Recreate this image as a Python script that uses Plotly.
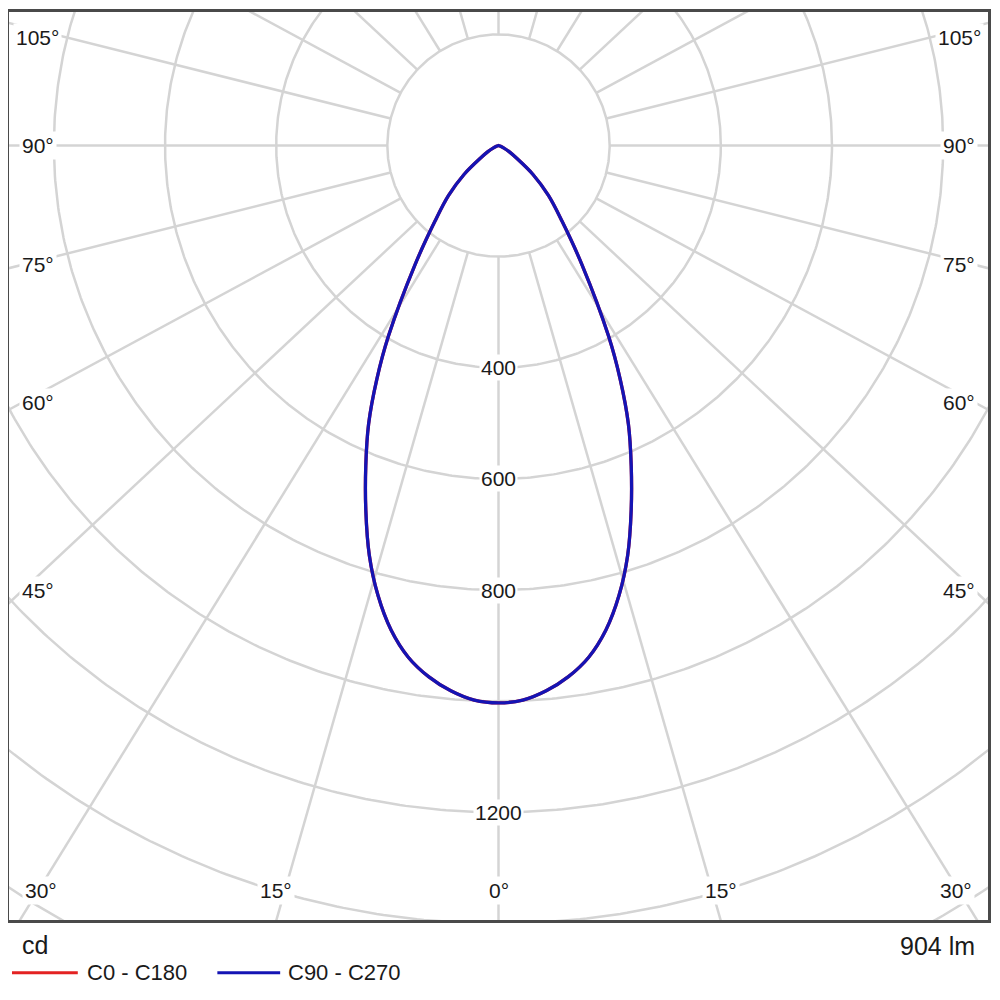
import numpy as np
import plotly.graph_objects as go

# luminous intensity distribution, gamma in degrees from nadir, values in cd
gamma = [0, 2.5, 5, 7.5, 10, 12.5, 15, 17.5, 20, 22.5, 25, 27.5, 30,
         35, 40, 45, 50, 55, 60, 65, 70, 75, 80, 85, 90]
c0_c180 = [1003, 999, 985, 964, 935, 893, 838, 773, 698, 624, 553, 474, 396,
           262, 178, 127, 81, 40, 22, 10, 4, 1, 0, 0, 0]
c90_c270 = [1003, 999, 985, 964, 935, 893, 838, 773, 698, 624, 553, 474, 396,
            262, 178, 127, 81, 40, 22, 10, 4, 1, 0, 0, 0]

plane_names = ['C0 - C180', 'C90 - C270']
plane_colors = ['#e32222', '#1414b4']

rings = [200, 400, 600, 800, 1000, 1200, 1400, 1600, 1800, 2000]
ring_labels = [400, 600, 800, 1200]
spoke_angles = [0, 15, 30, 45, 60, 75, 90, 105, 120, 135, 150, 165, 180]
angle_labels = [0, 15, 30, 45, 60, 75, 90, 105]
unit_text = 'cd'
flux_text = '904 lm'

GRID = '#d4d4d4'
TXT = '#1a1a1a'
FONT = 'Liberation Sans, Arial, sans-serif'
STRETCH = 1.07  # the angle grid of the original is slightly wider than round

# the page puts the figure 8 px in from the corner; keep it inside the window
OFF = 8
W, H = 984, 984
L, R, T, B = 1, 1, 1, 72
PW, PH = W - L - R, H - T - B
PX_PER_CD = 111.5 / 200
CX, CY = 500, 143  # pole position on screen


def px_x(xs):
    return (xs - OFF - L) / PW


def px_y(ys):
    return (H - B - (ys - OFF)) / PH


def plane_xy(values):
    g = np.radians(np.array(gamma, float))
    r = np.array(values, float)
    g_full = np.concatenate([-g[::-1], g[1:]])
    r_full = np.concatenate([r[::-1], r[1:]])
    return r_full * np.sin(g_full), -r_full * np.cos(g_full)


def spoke_dir(a, side):
    a = np.radians(a)
    d = np.array([side * STRETCH * np.sin(a), -np.cos(a)])
    return d / np.hypot(*d)


fig = go.Figure()

# rings
t = np.linspace(0, 2 * np.pi, 721)
rx, ry = [], []
for r in rings:
    rx += list(r * np.cos(t)) + [None]
    ry += list(r * np.sin(t)) + [None]
fig.add_trace(go.Scatter(x=rx, y=ry, mode='lines', line=dict(color=GRID, width=2.5),
                         hoverinfo='skip', showlegend=False))

# spokes
sx, sy = [], []
for a in spoke_angles:
    for side in ([1] if a in (0, 180) else [-1, 1]):
        d = spoke_dir(a, side)
        p0 = d * rings[0]
        p1 = d * 3000
        sx += [p0[0], p1[0], None]
        sy += [p0[1], p1[1], None]
fig.add_trace(go.Scatter(x=sx, y=sy, mode='lines', line=dict(color=GRID, width=2.5),
                         hoverinfo='skip', showlegend=False))

# curves
for name, vals, col in zip(plane_names, [c0_c180, c90_c270], plane_colors):
    x, y = plane_xy(vals)
    fig.add_trace(go.Scatter(x=x, y=y, mode='lines', name=name,
                             line=dict(color=col, width=3.3, shape='spline', smoothing=1.0),
                             showlegend=False))

# axis ranges so the pole lands at (CX, CY) on screen
x0s, x1s = OFF + L, OFF + L + PW
y0s, y1s = OFF + T, OFF + T + PH
x_left = -(CX - x0s) / PX_PER_CD
x_right = (x1s - CX) / PX_PER_CD
y_top = (CY - y0s) / PX_PER_CD
y_bottom = -(y1s - CY) / PX_PER_CD

annotations = []

# ring values along the 0 deg spoke
for r in ring_labels:
    annotations.append(dict(x=0, y=-r, xref='x', yref='y', text=str(r), showarrow=False,
                            font=dict(family=FONT, size=21, color=TXT),
                            bgcolor='white', borderpad=1))

# angle labels: side ones at the height where the spoke nears the frame,
# bottom ones where the spoke meets the bottom edge
side_hit = 478 / PX_PER_CD
side_text = 462 / PX_PER_CD
bottom_hit = 777 / PX_PER_CD
bottom_text = -(890 - CY) / PX_PER_CD
top_text = (CY - 35) / PX_PER_CD
max_bottom_x = 459 / PX_PER_CD
for a in angle_labels:
    for side in ([1] if a == 0 else [-1, 1]):
        d = spoke_dir(a, side)
        px = py = None
        if abs(d[0]) > 1e-9:
            yy = d[1] * side_hit / abs(d[0])
            if yy >= bottom_text:
                px, py = side * side_text, min(yy, top_text)
        if px is None:
            xx = d[0] * bottom_hit / -d[1]
            px, py = float(np.clip(xx, -max_bottom_x, max_bottom_x)), bottom_text
        annotations.append(dict(x=px, y=py, xref='x', yref='y', text=f'{a}°', showarrow=False,
                                font=dict(family=FONT, size=21, color=TXT),
                                bgcolor='white', borderpad=2))

# footer texts
annotations.append(dict(x=px_x(20), y=px_y(945), xref='paper', yref='paper', text=unit_text,
                        showarrow=False, xanchor='left', yanchor='middle',
                        font=dict(family=FONT, size=25, color=TXT)))
annotations.append(dict(x=px_x(980), y=px_y(946), xref='paper', yref='paper', text=flux_text,
                        showarrow=False, xanchor='right', yanchor='middle',
                        font=dict(family=FONT, size=25, color=TXT)))

# hand made legend
shapes = []
leg = [(12, 78, 85), (218, 281, 287)]
for (x0, x1, xt), name, col in zip(leg, plane_names, plane_colors):
    shapes.append(dict(type='line', xref='paper', yref='paper', x0=px_x(x0), x1=px_x(x1),
                       y0=px_y(973), y1=px_y(973), line=dict(color=col, width=3)))
    annotations.append(dict(x=px_x(xt), y=px_y(973), xref='paper', yref='paper', text=name,
                            showarrow=False, xanchor='left', yanchor='middle',
                            font=dict(family=FONT, size=22, color=TXT)))

axis = dict(showgrid=False, zeroline=False, showticklabels=False, ticks='',
            showline=True, mirror=True, linecolor='#4a4a4a', linewidth=2.5)

fig.update_layout(
    width=W, height=H,
    margin=dict(l=L, r=R, t=T, b=B),
    paper_bgcolor='white', plot_bgcolor='white',
    xaxis=dict(range=[x_left, x_right], **axis),
    yaxis=dict(range=[y_bottom, y_top], **axis),
    annotations=annotations,
    shapes=shapes,
    showlegend=False,
)

fig.write_html("out.html")
